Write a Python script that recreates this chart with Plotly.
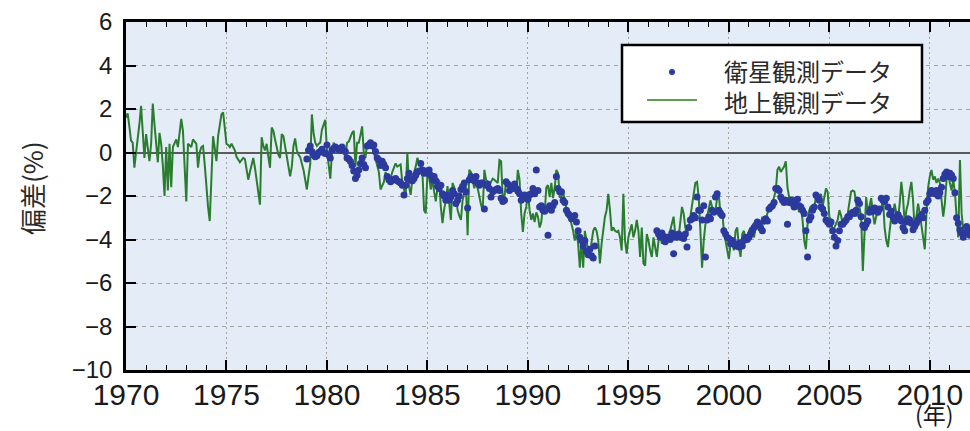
import plotly.graph_objects as go

# Monthly total-ozone deviations (%) from the reference values.
# Ground-based network, monthly from January 1970.
ground_start = 1970
ground_values = [
    1.6, 1.8, 1.2, 0.55, 0.45, -0.7, 0.0, 0.55, 1.3, 2.15, 1.15, -0.25,          # 1970
    0.85, 0.2, -0.4, 0.4, 2.25, 1.3, 0.5, -0.45, 0.9, 0.4, -0.6, -2.0,           # 1971
    0.25, -1.75, 0.4, -1.6, 0.25, 0.4, 0.6, 0.25, 0.9, 1.55, 1.0, -0.6,          # 1972
    -2.25, 0.4, 0.3, 0.25, 0.6, 0.5, 0.4, -0.7, 0.0, 0.25, 0.3, -0.55,           # 1973
    -1.75, -2.5, -3.15, -1.3, 0.75, 0.2, -0.4, 0.75, 1.3, 1.75, 1.85, 1.0,       # 1974
    0.4, 0.35, 0.25, 0.4, 0.25, 0.1, -0.2, -0.3, -0.45, -0.35, -0.25, -0.3,      # 1975
    -0.7, -1.25, -0.9, -0.6, -0.25, -0.7, -1.3, -1.8, -2.4, 0.7, 0.3, 0.1,       # 1976
    0.4, -0.2, -0.7, 1.15, 1.0, 0.6, 0.15, -0.1, -0.25, 0.85, 0.75, 0.3,         # 1977
    -0.1, -0.6, -1.1, -0.65, 0.3, 0.65, 0.1, -0.1, -0.2, -0.5, -0.8, -1.25,      # 1978
    -1.7, -1.1, -0.55, 1.75, 0.9, 0.45, 0.3, 0.4, 0.45, 1.05, 1.3, 1.5,          # 1979
    0.1, -0.65, -1.2, 0.0, 0.45, 0.3, 0.1, 0.0, 0.1, 0.2, 0.0, -0.2,             # 1980
    0.45, 0.5, 0.7, 0.9, 1.0, -0.65, 0.45, 0.45, 0.8, 1.2, 0.0, -0.25,           # 1981
    0.45, 0.35, 0.3, 0.3, 0.0, -0.3, -0.5, -0.9, -1.7, -1.5, -1.35, -0.9,        # 1982
    -1.2, -1.2, -1.2, -0.9, -0.7, -0.5, -0.65, -0.6, -0.55, -1.4, -1.7, -2.0,    # 1983
    0.0, -1.55, -1.95, -1.2, -0.9, -0.65, -0.25, -0.5, -0.7, -0.9, -2.65, -2.8,  # 1984
    -0.95, -1.1, -1.7, -1.25, -1.8, -2.25, -1.6, -1.25, -2.5, -3.25, -2.6, -2.2, # 1985
    -1.55, -2.35, -3.1, -1.4, -1.6, -1.9, -2.65, -2.9, -3.1, -2.2, -1.9, -1.55,  # 1986
    -3.8, -0.8, -0.9, -1.3, -1.65, -1.25, -1.7, -2.05, -2.4, -2.65, -0.8, -1.25, # 1987
    -1.4, -1.5, -1.35, -1.2, -1.25, -1.35, -1.4, -0.35, -0.4, -2.2, -2.05, -1.25,# 1988
    -1.4, -1.5, -1.75, -1.65, -1.7, -1.9, -0.8, -1.25, -2.8, -3.65, -2.8, -2.5,  # 1989
    -1.8, -2.65, -3.1, -2.8, -3.2, -2.75, -2.95, -3.45, -3.2, -2.35, -2.8, -1.6, # 1990
    -1.5, -2.05, -1.4, -2.1, -1.6, -0.8, -0.95, -2.05, -2.05, -1.75, -2.25, -2.6,# 1991
    -2.65, -2.95, -3.3, -3.6, -4.05, -3.65, -4.2, -5.3, -4.05, -5.3, -3.6, -4.05,# 1992
    -4.5, -4.65, -4.2, -3.6, -3.45, -3.6, -4.05, -5.1, -4.2, -3.6, -2.95, -2.65, # 1993
    -1.9, -2.65, -3.6, -3.45, -3.6, -3.65, -3.6, -3.9, -4.5, -1.9, -4.05, -4.65, # 1994
    -3.9, -3.6, -3.3, -3.9, -3.6, -3.1, -3.6, -4.8, -3.45, -5.1, -5.2, -3.75,    # 1995
    -4.05, -4.5, -4.8, -3.9, -4.35, -4.8, -4.05, -3.75, -4.2, -3.6, -4.2, -3.9,  # 1996
    -3.9, -3.6, -3.3, -2.95, -3.75, -4.05, -3.9, -3.3, -2.5, -2.8, -3.45, -3.75, # 1997
    -3.45, -2.95, -2.5, -1.95, -1.4, -1.35, -2.05, -3.6, -5.3, -4.05, -3.3, -2.95,  # 1998
    -2.5, -2.2, -2.5, -2.8, -2.65, -2.1, -1.95, -2.8, -2.65, -3.6, -4.05, -4.5,  # 1999
    -4.9, -4.2, -3.9, -4.5, -3.6, -3.45, -4.35, -4.8, -3.75, -3.6, -4.05, -3.9,  # 2000
    -3.6, -3.45, -3.75, -3.9, -3.45, -3.3, -3.6, -3.45, -2.95, -3.3, -3.1, -2.8, # 2001
    -2.65, -2.5, -2.35, -2.05, -1.75, -0.8, -0.65, -0.9, -0.75, -0.65, -0.4, -1.6,  # 2002
    -2.05, -2.2, -2.05, -2.25, -2.2, -2.5, -2.75, -2.5, -3.1, -4.05, -4.45, -3.3,   # 2003
    -2.65, -2.45, -2.65, -2.5, -2.05, -2.2, -2.15, -1.9, -2.5, -2.05, -1.65, -1.8,  # 2004
    -2.95, -3.1, -3.6, -3.45, -3.3, -3.1, -2.65, -2.9, -3.3, -3.1, -2.95, -2.8,  # 2005
    -2.2, -1.8, -1.75, -1.8, -2.35, -2.95, -2.5, -2.95, -5.45, -3.6, -2.05, -2.8,   # 2006
    -2.5, -2.1, -2.8, -3.3, -2.95, -2.65, -2.8, -2.65, -2.05, -3.45, -4.05, -4.35,  # 2007
    -3.6, -2.95, -2.8, -2.35, -2.8, -3.1, -2.35, -1.35, -2.05, -3.3, -2.65, -2.35,  # 2008
    -1.75, -1.35, -2.2, -3.6, -2.95, -2.35, -2.8, -3.3, -3.75, -4.45, -2.8, -1.6,   # 2009
    -1.1, -0.8, -1.25, -1.1, -1.4, -1.2, -1.4, -2.2, -2.95, -2.35, -1.25, -1.05,    # 2010
    -1.4, -1.75, -1.25, -1.85, -2.95, -3.9, -0.35, -2.8, -3.6, -3.3, -3.5, -3.4,    # 2011
    -3.6,                                                                            # 2012
]

# Satellite observations, monthly from January 1979 (None = no data).
satellite_start = 1979
satellite_values = [
    -0.3, 0.1, 0.3, 0.05, -0.1, -0.2, -0.15, 0.0, 0.05, 0.15, 0.0, -0.05,        # 1979
    0.35, -0.1, -0.25, 0.1, 0.2, 0.25, 0.2, 0.15, 0.1, 0.25, 0.1, 0.05,          # 1980
    -0.25, -0.3, -0.4, -0.6, -0.85, -1.2, -1.05, -0.8, -0.5, -0.25, -0.55, -0.7, # 1981
    0.3, 0.35, 0.45, 0.3, 0.35, 0.05, -0.25, -0.35, -0.6, -0.4, -0.55, -0.7,     # 1982
    -1.1, -1.25, -1.35, -1.25, -1.25, -1.2, -1.3, -1.35, -1.4, -1.5, -1.95, -1.5,# 1983
    -1.2, -0.95, -1.25, -1.3, -1.2, -1.05, -0.9, -0.85, -0.5, -0.8, -0.95, -0.85,# 1984
    -0.95, -0.8, -1.05, -1.25, -1.1, -1.3, -1.55, -1.65, -1.5, -1.9, -2.0, -2.2, # 1985
    -1.95, -2.2, -2.05, -1.75, -1.9, -2.35, -2.2, -2.0, -1.7, -1.55, -1.4, -1.8, # 1986
    -2.55, -1.25, -1.1, -1.25, -1.3, -1.1, -1.4, -1.5, -1.4, -1.4, -2.6, -1.5,   # 1987
    -1.45, -1.65, -2.05, -1.8, -1.75, -1.7, -1.65, -1.75, -2.1, -2.25, -2.2, -1.35,  # 1988
    -1.45, -1.75, -1.6, -1.65, -1.45, -1.65, -1.75, -1.9, -2.2, -2.1, -1.95, -2.05,  # 1989
    -2.15, -1.95, -1.9, -1.65, -1.9, -0.8, -1.75, -2.5, -2.45, -2.65, -2.7, -2.6,    # 1990
    -3.8, -2.45, -2.65, -2.45, -2.3, -1.1, -1.65, -1.8, -1.8, -2.2, -2.3, -2.65,     # 1991
    -2.8, -2.9, -3.05, -2.95, -2.9, -3.2, -3.6, -3.9, -4.05, -4.3, -4.05, -4.55,     # 1992
    -4.7, -4.45, -4.75, -4.85, -4.3, None, None, None, None, None, None, None,       # 1993
    None, None, None, None, None, None, None, None, None, None, None, None,          # 1994
    None, None, None, None, None, None, None, None, None, None, None, None,          # 1995
    None, None, None, None, None, -3.6, -3.75, -3.9, -3.7, -3.85, -4.1, -3.9,        # 1996
    -3.9, -4.0, -3.7, -4.65, -3.9, -3.8, -3.75, -3.9, -3.9, -3.95, -3.75, -4.35,     # 1997
    -3.45, -3.1, -3.05, -2.9, -3.0, -2.05, -2.65, -2.65, -3.1, -2.45, -4.8, -3.1,    # 1998
    -2.95, -3.05, -2.65, -2.75, -2.05, -1.9, -2.65, -2.8, -2.9, -3.6, -3.75, -3.9,   # 1999
    -3.95, -4.2, -4.05, -4.2, -4.3, -4.2, -4.35, -4.15, -4.3, -4.05, -3.9, -4.0,     # 2000
    -3.9, -3.75, -3.6, -3.45, -3.35, -3.2, -3.3, -3.45, -3.6, -3.15, -3.05, -3.15,   # 2001
    -2.6, -2.5, -2.45, -2.3, -1.65, -1.65, -1.75, -2.05, -2.2, -2.3, -2.2, -3.3,     # 2002
    -2.3, -2.2, -2.35, -2.5, -2.2, -2.15, -2.45, -2.5, -2.65, -2.8, -3.6, -4.8,      # 2003
    -3.1, -2.95, -2.65, -2.5, -1.95, -2.05, -2.2, -2.5, -2.6, -2.8, -3.1, -3.2,      # 2004
    -3.3, -3.2, -3.6, -3.9, -4.3, -4.05, -3.6, -3.3, -3.3, -3.2, -3.1, -2.95,        # 2005
    -2.95, -2.8, -2.75, -2.8, -2.65, -2.2, -2.35, -2.95, -3.35, -3.45, -3.3, -3.15,  # 2006
    -2.75, -2.6, -2.7, -2.55, -2.6, -2.75, -2.6, -2.1, -2.2, -2.25, -2.1, -2.5,      # 2007
    -2.85, -2.7, -2.95, -3.15, -3.0, -2.85, -3.0, -3.15, -3.45, -3.6, -3.2, -3.05,   # 2008
    -3.1, -3.25, -3.55, -3.4, -3.25, -3.1, -2.95, -2.85, -3.0, -2.65, -2.3, -2.2,    # 2009
    -1.9, -1.75, -1.85, -1.9, -1.75, -2.0, -1.85, -1.6, -1.2, -1.0, -0.9, -1.1,      # 2010
    -0.95, -1.05, -1.2, -1.85, -3.0, -3.25, -3.55, -3.7, -3.9, -3.7, -3.4, -3.6,     # 2011
    -3.8,                                                                            # 2012
]

x_range = [1970, 2012.0]
y_range = [-10, 6]
x_tick_step = 5
y_tick_step = 2

series_names = ["衛星観測データ", "地上観測データ"]
y_title = "偏差(%)"
x_unit = "(年)"

ground_x = [ground_start + i / 12 for i in range(len(ground_values))]
satellite_x = [satellite_start + i / 12 for i in range(len(satellite_values))]

GREEN = "#2a7d2e"
BLUE = "#2b3a9c"
LATIN = "Liberation Sans, Arial, sans-serif"
CJK = "Noto Sans CJK JP, sans-serif"

fig = go.Figure()
fig.add_trace(go.Scatter(
    x=ground_x, y=ground_values, mode="lines", name=series_names[1],
    line=dict(color=GREEN, width=2), showlegend=False,
))
fig.add_trace(go.Scatter(
    x=satellite_x, y=satellite_values, mode="markers", name=series_names[0],
    marker=dict(color=BLUE, size=7, line=dict(width=0)), showlegend=False,
))

W, H = 970, 431
L, R, T, B = 126, 0, 22, 61
pw, ph = W - L - R, H - T - B


def px(xp):
    return (xp - L) / pw


def py(yp):
    return (H - B - yp) / ph


fig.update_layout(
    width=W, height=H,
    margin=dict(l=L, r=R, t=T, b=B, pad=0),
    paper_bgcolor="white",
    plot_bgcolor="#e3ecf7",
    xaxis=dict(
        range=x_range, tick0=1970, dtick=x_tick_step,
        ticks="inside", ticklen=10, tickwidth=1.5, tickcolor="black",
        minor=dict(dtick=1, ticks="inside", ticklen=5, tickwidth=1,
                   tickcolor="black", showgrid=False),
        showline=True, linewidth=2.5, linecolor="black", mirror="ticks",
        showgrid=True, gridcolor="#a3a3a3", gridwidth=1, griddash="2px,3px",
        zeroline=False,
        tickfont=dict(family=LATIN, size=30, color="#1a1a1a"),
        ticklabelstandoff=-4,
    ),
    yaxis=dict(
        range=y_range, dtick=y_tick_step,
        ticks="inside", ticklen=10, tickwidth=1.5, tickcolor="black",
        showline=True, linewidth=2.5, linecolor="black", mirror=False,
        showgrid=True, gridcolor="#a3a3a3", gridwidth=1, griddash="4px,4px",
        zeroline=True, zerolinecolor="#5a5a5a", zerolinewidth=1.6,
        tickfont=dict(family=LATIN, size=24, color="#1a1a1a"),
        ticklabelstandoff=6,
    ),
    yaxis2=dict(
        range=y_range, dtick=y_tick_step, overlaying="y", side="right",
        anchor="x", ticks="inside", ticklen=10, tickwidth=1.5,
        tickcolor="black", showline=False, showticklabels=False,
        showgrid=False, zeroline=False,
    ),
    showlegend=False,
)

# Legend panel
box = dict(x0=px(622), x1=px(922), y0=py(122), y1=py(45))
shapes = [
    dict(type="rect", xref="paper", yref="paper", layer="above",
         fillcolor="white", line=dict(color="black", width=2.5), **box),
    dict(type="line", xref="paper", yref="paper", layer="above",
         x0=px(647), x1=px(697), y0=py(100), y1=py(100),
         line=dict(color="#5f9f4c", width=2)),
    dict(type="circle", xref="paper", yref="paper", layer="above",
         x0=px(669), x1=px(675), y0=py(75), y1=py(69),
         fillcolor=BLUE, line=dict(width=0)),
]
fig.update_layout(shapes=shapes)

annotations = [
    dict(text=series_names[0] + "<br>" + series_names[1],
         x=px(722), y=py(86), xref="paper", yref="paper",
         xanchor="left", yanchor="middle", align="left", showarrow=False,
         font=dict(family=CJK, size=24, color="#2a2a2a")),
    dict(text=y_title, x=px(31), y=py(188), xref="paper", yref="paper",
         xanchor="center", yanchor="middle", textangle=-90, showarrow=False,
         font=dict(family=CJK, size=26, color="#2a2a2a")),
    dict(text=x_unit, x=px(934), y=py(414), xref="paper", yref="paper",
         xanchor="center", yanchor="middle", showarrow=False,
         font=dict(family=CJK, size=23, color="#1a1a1a")),
]
fig.update_layout(annotations=annotations)

fig.write_html("out.html")
